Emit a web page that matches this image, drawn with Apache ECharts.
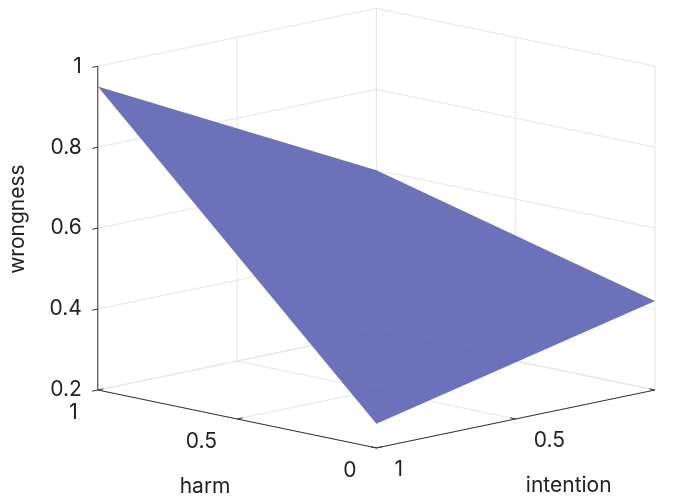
<!DOCTYPE html>
<html><head><meta charset="utf-8">
<script src="https://cdn.jsdelivr.net/npm/echarts@6/dist/echarts.min.js"></script>
<style>html,body{margin:0;padding:0;background:#fff}#c{width:673px;height:501px}</style>
</head><body><div id="c"></div>
<script>
// ---- data ----
const harmTicks = [0, 0.5, 1];
const intentionTicks = [0, 0.5, 1];
const wrongTicks = [0.2, 0.4, 0.6, 0.8, 1];
const harmGrid = [0, 1];
const intentionGrid = [0, 1];
// wrongness[harmIndex][intentionIndex]
const wrongness = [
  [0.42, 0.26],
  [0.60, 0.95]
];
const harmRange = [0, 1];
const intentionRange = [0, 1];
const wrongRange = [0.2, 1];

// ---- view (orthographic 3D projection) ----
const VIEW = { az: 45, el: 12, zAspect: 0.84 };
const PX = 394;            // pixels per projected unit
const ORIGIN = [655, 390]; // where (harm=0,intention=0,wrongness=min) lands
const W = 673, H = 501;

function project(h, i, w) {
  const a = VIEW.az * Math.PI / 180, e = VIEW.el * Math.PI / 180;
  const X = (i - intentionRange[0]) / (intentionRange[1] - intentionRange[0]);
  const Y = (h - harmRange[0]) / (harmRange[1] - harmRange[0]);
  const Z = (w - wrongRange[0]) / (wrongRange[1] - wrongRange[0]) * VIEW.zAspect;
  const sx = -(X * Math.cos(a) + Y * Math.sin(a));
  const depth = -X * Math.sin(a) + Y * Math.cos(a);
  const sy = depth * Math.sin(e) + Z * Math.cos(e);
  return [sx, sy];
}

const zMin = wrongRange[0], zMax = wrongRange[1];
const hMin = harmRange[0], hMax = harmRange[1];
const iMin = intentionRange[0], iMax = intentionRange[1];

function seg(p, q) { const a = project(...p), b = project(...q); return [a[0], a[1], b[0], b[1]]; }

// grid segments
const gridSegs = [];
harmTicks.forEach(h => gridSegs.push(seg([h, iMin, zMin], [h, iMax, zMin])));
intentionTicks.forEach(i => gridSegs.push(seg([hMin, i, zMin], [hMax, i, zMin])));
intentionTicks.forEach(i => gridSegs.push(seg([hMax, i, zMin], [hMax, i, zMax])));
wrongTicks.forEach(w => gridSegs.push(seg([hMax, iMin, w], [hMax, iMax, w])));
harmTicks.forEach(h => gridSegs.push(seg([h, iMin, zMin], [h, iMin, zMax])));
wrongTicks.forEach(w => gridSegs.push(seg([hMin, iMin, w], [hMax, iMin, w])));

// axes + ticks
const axisSegs = [];
axisSegs.push(seg([hMax, iMax, zMin], [hMax, iMax, zMax]));
axisSegs.push(seg([hMin, iMax, zMin], [hMax, iMax, zMin]));
axisSegs.push(seg([hMin, iMin, zMin], [hMin, iMax, zMin]));
const tk = 0.02;
wrongTicks.forEach(w => axisSegs.push(seg([hMax, iMax, w], [hMax, iMax + tk, w])));
harmTicks.forEach(h => axisSegs.push(seg([h, iMax, zMin], [h, iMax - tk, zMin])));
intentionTicks.forEach(i => axisSegs.push(seg([hMin, i, zMin], [hMin + tk, i, zMin])));

// surface polygon (corner order around the quad)
const surfPts = [
  project(harmGrid[1], intentionGrid[1], wrongness[1][1]),
  project(harmGrid[1], intentionGrid[0], wrongness[1][0]),
  project(harmGrid[0], intentionGrid[0], wrongness[0][0]),
  project(harmGrid[0], intentionGrid[1], wrongness[0][1])
];

// text labels
const FONT = '21px Inter';
const texts = [];
wrongTicks.forEach(w => texts.push({ p: project(hMax, iMax, w), t: String(w), align: 'right', dx: -16, dy: 0 }));
harmTicks.forEach(h => texts.push({ p: project(h, iMax, zMin), t: String(h), align: 'right', dx: -20, dy: 23 }));
intentionTicks.forEach(i => texts.push({ p: project(hMin, i, zMin), t: String(i), align: 'left', dx: 18, dy: 22 }));
texts.push({ p: project((hMin + hMax) / 2, iMax, zMin), t: 'harm', align: 'center', dx: -32, dy: 68 });
texts.push({ p: project(hMin, (iMin + iMax) / 2, zMin), t: 'intention', align: 'center', dx: 53, dy: 67 });
texts.push({ p: project(hMax, iMax, (zMin + zMax) / 2), t: 'wrongness', align: 'center', dx: -80, dy: -9, rot: Math.PI / 2 });

function segRender(color, width) {
  return function (params, api) {
    const a = api.coord([api.value(0), api.value(1)]);
    const b = api.coord([api.value(2), api.value(3)]);
    return { type: 'line', shape: { x1: a[0], y1: a[1], x2: b[0], y2: b[1] }, style: { stroke: color, lineWidth: width } };
  };
}

const chart = echarts.init(document.getElementById('c'), null, { renderer: 'canvas' });
chart.setOption({
  animation: false,
  backgroundColor: '#ffffff',
  grid: { left: 0, top: 0, width: W, height: H },
  xAxis: { type: 'value', min: -ORIGIN[0] / PX, max: (W - ORIGIN[0]) / PX, show: false },
  yAxis: { type: 'value', min: (ORIGIN[1] - H) / PX, max: ORIGIN[1] / PX, show: false },
  series: [
    { type: 'custom', z: 1, silent: true, data: gridSegs, renderItem: segRender('#e6e6e6', 1) },
    { type: 'custom', z: 2, silent: true, data: [surfPts[0]],
      renderItem: function (params, api) {
        const pts = surfPts.map(p => api.coord(p));
        return { type: 'polygon', shape: { points: pts }, style: { fill: 'rgb(84,90,175)', opacity: 0.86 } };
      } },
    { type: 'custom', z: 3, silent: true, data: axisSegs, renderItem: segRender('#333333', 1) },
    { type: 'custom', z: 4, silent: true, data: texts.map(t => t.p),
      renderItem: function (params, api) {
        const t = texts[params.dataIndex];
        const c = api.coord([api.value(0), api.value(1)]);
        return { type: 'text', x: c[0] + t.dx, y: c[1] + t.dy, rotation: t.rot || 0,
          style: { text: t.t, font: FONT, fill: '#222222', align: t.align, verticalAlign: 'middle' } };
      } }
  ]
});
</script></body></html>
